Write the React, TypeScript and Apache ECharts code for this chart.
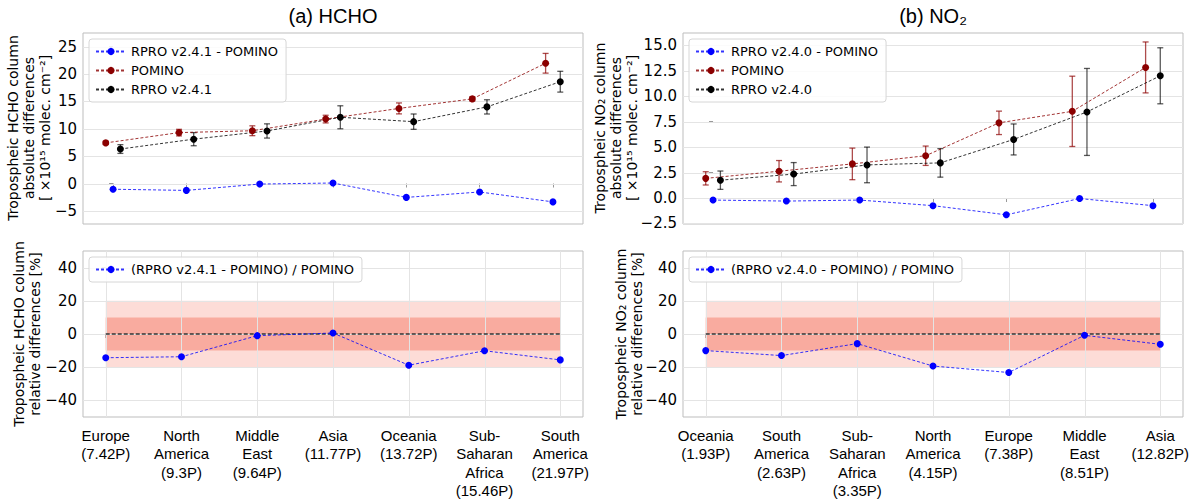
import React, { useEffect, useRef } from 'react';
import * as echarts from 'echarts';

// ---------------- data ----------------
const hchoCategories = [
  'Europe\n(7.42P)',
  'North\nAmerica\n(9.3P)',
  'Middle\nEast\n(9.64P)',
  'Asia\n(11.77P)',
  'Oceania\n(13.72P)',
  'Sub-\nSaharan\nAfrica\n(15.46P)',
  'South\nAmerica\n(21.97P)',
];
const hchoPomino = [7.42, 9.3, 9.64, 11.77, 13.72, 15.46, 21.97];
const hchoPominoErr = [0.3, 0.6, 0.9, 0.7, 1.0, 0.4, 1.8];
const hchoRpro = [6.3, 8.1, 9.6, 12.1, 11.3, 14.0, 18.6];
const hchoRproErr = [0.8, 1.2, 1.3, 2.1, 1.4, 1.3, 1.9];
const hchoAbsDiff = [-1.05, -1.26, -0.1, 0.09, -2.54, -1.55, -3.36];
const hchoRelDiff = [-14.3, -13.7, -1.0, 0.6, -18.8, -10.1, -15.6];

const no2Categories = [
  'Oceania\n(1.93P)',
  'South\nAmerica\n(2.63P)',
  'Sub-\nSaharan\nAfrica\n(3.35P)',
  'North\nAmerica\n(4.15P)',
  'Europe\n(7.38P)',
  'Middle\nEast\n(8.51P)',
  'Asia\n(12.82P)',
];
const no2Pomino = [1.93, 2.63, 3.35, 4.15, 7.38, 8.51, 12.82];
const no2PominoErr = [0.65, 1.05, 1.55, 0.95, 1.15, 3.45, 2.5];
const no2Rpro = [1.75, 2.35, 3.25, 3.45, 5.75, 8.45, 12.0];
const no2RproErr = [0.9, 1.13, 1.75, 1.4, 1.52, 4.27, 2.75];
const no2AbsDiff = [-0.2, -0.3, -0.2, -0.75, -1.65, -0.05, -0.75];
const no2RelDiff = [-10.0, -13.0, -5.8, -19.3, -23.2, -0.8, -6.2];

const hchoAbsTicks = [-5, 0, 5, 10, 15, 20, 25];
const no2AbsTicks = [-2.5, 0, 2.5, 5, 7.5, 10, 12.5, 15];
const relTicks = [-40, -20, 0, 20, 40];
const bandLimits = [20, 10];

// ---------------- helpers ----------------
const FONT = 'DejaVu Sans';
const SANS = 'Liberation Sans';
const GRID_COLOR = '#e4e4e4';
const BAND_COLORS = ['#fddcd7', '#f9ab9f'];
const OFFSET = 0.1;

const minus = (s: string) => s.replace('-', '\u2212');

function hGridSeries(ticks: number[], axisIdx: number) {
  return {
    type: 'custom',
    xAxisIndex: axisIdx,
    yAxisIndex: axisIdx,
    z: 2,
    silent: true,
    data: ticks.map((v) => [0, v]),
    renderItem: (params: any, api: any) => {
      const cs = params.coordSys;
      const y = Math.round(api.coord([0, api.value(1)])[1]) + 0.5;
      return {
        type: 'line',
        shape: { x1: cs.x, y1: y, x2: cs.x + cs.width, y2: y },
        style: { stroke: GRID_COLOR, lineWidth: 1 },
      };
    },
  };
}

function vGridSeries(count: number, axisIdx: number) {
  return {
    type: 'custom',
    xAxisIndex: axisIdx,
    yAxisIndex: axisIdx,
    z: 2,
    silent: true,
    data: Array.from({ length: count }, (_, i) => [i, 0]),
    renderItem: (params: any, api: any) => {
      const cs = params.coordSys;
      const x = Math.round(api.coord([api.value(0), 0])[0]) + 0.5;
      return {
        type: 'line',
        shape: { x1: x, y1: cs.y, x2: x, y2: cs.y + cs.height },
        style: { stroke: GRID_COLOR, lineWidth: 1 },
      };
    },
  };
}

function bandSeries(count: number, axisIdx: number) {
  return {
    type: 'custom',
    xAxisIndex: axisIdx,
    yAxisIndex: axisIdx,
    z: 1,
    silent: true,
    data: bandLimits.map((b) => [0, -b, count - 1, b]),
    renderItem: (params: any, api: any) => {
      const p1 = api.coord([api.value(0), api.value(3)]);
      const p2 = api.coord([api.value(2), api.value(1)]);
      return {
        type: 'rect',
        shape: { x: p1[0], y: p1[1], width: p2[0] - p1[0], height: p2[1] - p1[1] },
        style: { fill: BAND_COLORS[params.dataIndex] },
      };
    },
  };
}

function zeroLineSeries(count: number, axisIdx: number) {
  return {
    type: 'custom',
    xAxisIndex: axisIdx,
    yAxisIndex: axisIdx,
    z: 3,
    silent: true,
    data: [[0, 0, count - 1]],
    renderItem: (params: any, api: any) => {
      const p1 = api.coord([api.value(0), api.value(1)]);
      const p2 = api.coord([api.value(2), api.value(1)]);
      return {
        type: 'line',
        shape: { x1: p1[0], y1: p1[1], x2: p2[0], y2: p2[1] },
        style: { stroke: '#333', lineWidth: 1.3, lineDash: [4, 2] },
      };
    },
  };
}

function errSeries(name: string, vals: number[], errs: number[], off: number, color: string, axisIdx: number) {
  return {
    type: 'custom',
    name,
    xAxisIndex: axisIdx,
    yAxisIndex: axisIdx,
    z: 4,
    silent: true,
    encode: { x: 0, y: [1, 2] },
    data: vals.map((v, i) => [i + off, v - errs[i], v + errs[i]]),
    renderItem: (params: any, api: any) => {
      const x = api.value(0);
      const a = api.coord([x, api.value(1)]);
      const b = api.coord([x, api.value(2)]);
      const cap = 3;
      const st = { stroke: color, lineWidth: 1.3 };
      return {
        type: 'group',
        children: [
          { type: 'line', shape: { x1: a[0], y1: a[1], x2: b[0], y2: b[1] }, style: st },
          { type: 'line', shape: { x1: a[0] - cap, y1: a[1], x2: a[0] + cap, y2: a[1] }, style: st },
          { type: 'line', shape: { x1: b[0] - cap, y1: b[1], x2: b[0] + cap, y2: b[1] }, style: st },
        ],
      };
    },
  };
}

function lineSeries(name: string, vals: number[], off: number, color: string, axisIdx: number) {
  return {
    type: 'line',
    name,
    xAxisIndex: axisIdx,
    yAxisIndex: axisIdx,
    z: 5,
    data: vals.map((v, i) => [i + off, v]),
    symbol: 'circle',
    symbolSize: 7,
    showSymbol: true,
    itemStyle: { color },
    lineStyle: { color, width: 1, type: [3, 2], opacity: 0.8 },
    silent: true,
  };
}

function xAxisCfg(gridIndex: number, min: number, max: number, count: number, labels: string[] | null) {
  const idx = Array.from({ length: count }, (_, i) => i);
  return {
    type: 'value',
    gridIndex,
    min,
    max,
    axisLine: { show: false },
    splitLine: { show: false },
    axisTick: { show: true, customValues: idx, length: 4, lineStyle: { color: '#999' } },
    axisLabel: labels
      ? {
          show: true,
          customValues: idx,
          formatter: (v: number) => labels[Math.round(v)] ?? '',
          fontSize: 15,
          fontFamily: SANS,
          color: '#000',
          lineHeight: 18.5,
          margin: 9,
          align: 'center',
        }
      : { show: false },
  };
}

function yAxisCfg(gridIndex: number, min: number, max: number, ticks: number[], dec: number) {
  return {
    type: 'value',
    gridIndex,
    min,
    max,
    axisLine: { show: false },
    splitLine: { show: false },
    axisTick: { show: true, customValues: ticks, length: 4, lineStyle: { color: '#999' } },
    axisLabel: {
      customValues: ticks,
      formatter: (v: number) => minus(v.toFixed(dec)),
      fontSize: 15,
      fontFamily: FONT,
      color: '#000',
      margin: 6,
    },
  };
}

function legendCfg(names: string[], left: number, top: number) {
  return {
    data: names,
    orient: 'vertical',
    left,
    top,
    itemWidth: 30,
    itemHeight: 9,
    itemGap: 6,
    padding: [6, 8, 6, 6],
    borderColor: '#d6d6d6',
    borderWidth: 1,
    borderRadius: 3,
    backgroundColor: 'rgba(255,255,255,0.85)',
    selectedMode: false,
    textStyle: { fontSize: 13, fontFamily: FONT, color: '#000' },
  };
}

function yLabel(lines: string[], x0: number, yc: number, step: number) {
  return lines.map((t, i) => ({
    type: 'text',
    x: x0 + i * step,
    y: yc,
    rotation: Math.PI / 2,
    silent: true,
    style: {
      text: t,
      fill: '#000',
      fontSize: 14,
      fontFamily: FONT,
      align: 'center',
      verticalAlign: 'middle',
      textAlign: 'center',
      textVerticalAlign: 'middle',
    },
  }));
}

export default function App() {
  const ref = useRef<HTMLDivElement>(null);
  useEffect(() => {
    if (!ref.current) return;
    const chart = echarts.init(ref.current, undefined, { renderer: 'svg' });
    const n = hchoCategories.length;
    const blue = '#0000ff';
    const red = '#8b0000';
    const black = '#000000';
    const gridBase = { show: true, borderColor: '#bdbdbd', borderWidth: 1, backgroundColor: 'transparent' };

    chart.setOption({
      animation: false,
      backgroundColor: '#ffffff',
      title: [
        { text: '(a) HCHO', left: 333, top: 6, textAlign: 'center', padding: 0, textStyle: { fontSize: 20, fontWeight: 'normal', fontFamily: SANS, color: '#000' } },
        { text: '(b) NO\u2082', left: 933, top: 6, textAlign: 'center', padding: 0, textStyle: { fontSize: 20, fontWeight: 'normal', fontFamily: SANS, color: '#000' } },
      ],
      grid: [
        { ...gridBase, left: 83, top: 33, width: 500, height: 191 },
        { ...gridBase, left: 83, top: 251, width: 500, height: 166 },
        { ...gridBase, left: 683, top: 33, width: 500, height: 191 },
        { ...gridBase, left: 683, top: 251, width: 500, height: 166 },
      ],
      xAxis: [
        xAxisCfg(0, -0.41, 6.41, n, null),
        xAxisCfg(1, -0.3, 6.3, n, hchoCategories),
        xAxisCfg(2, -0.41, 6.41, n, null),
        xAxisCfg(3, -0.3, 6.3, n, no2Categories),
      ],
      yAxis: [
        yAxisCfg(0, -7.4, 27.5, hchoAbsTicks, 0),
        yAxisCfg(1, -50, 50, relTicks, 0),
        yAxisCfg(2, -2.55, 16.2, no2AbsTicks, 1),
        yAxisCfg(3, -50, 50, relTicks, 0),
      ],
      legend: [
        legendCfg(['RPRO v2.4.1 - POMINO', 'POMINO', 'RPRO v2.4.1'], 89, 39),
        legendCfg(['(RPRO v2.4.1 - POMINO) / POMINO'], 89, 257),
        legendCfg(['RPRO v2.4.0 - POMINO', 'POMINO', 'RPRO v2.4.0'], 689, 39),
        legendCfg(['(RPRO v2.4.0 - POMINO) / POMINO'], 689, 257),
      ],
      graphic: [
        ...yLabel(['Tropospheic HCHO column', 'absolute differences', '[ \u00d710\u00b9\u2075 molec. cm\u207b\u00b2]'], 13, 128, 16),
        ...yLabel(['Tropospheic HCHO column', 'relative differences [%]'], 19, 334, 16),
        ...yLabel(['Tropospheic NO\u2082 column', 'absolute differences', '[ \u00d710\u00b9\u2075 molec. cm\u207b\u00b2]'], 600, 128, 16),
        ...yLabel(['Tropospheic NO\u2082 column', 'relative differences [%]'], 621, 334, 16),
      ],
      series: [
        // HCHO absolute
        hGridSeries(hchoAbsTicks, 0),
        errSeries('POMINO err a', hchoPomino, hchoPominoErr, -OFFSET, 'rgba(139,0,0,0.7)', 0),
        errSeries('RPRO err a', hchoRpro, hchoRproErr, OFFSET, 'rgba(0,0,0,0.65)', 0),
        lineSeries('RPRO v2.4.1 - POMINO', hchoAbsDiff, 0, blue, 0),
        lineSeries('POMINO', hchoPomino, -OFFSET, red, 0),
        lineSeries('RPRO v2.4.1', hchoRpro, OFFSET, black, 0),
        // HCHO relative
        bandSeries(n, 1),
        hGridSeries(relTicks, 1),
        vGridSeries(n, 1),
        zeroLineSeries(n, 1),
        lineSeries('(RPRO v2.4.1 - POMINO) / POMINO', hchoRelDiff, 0, blue, 1),
        // NO2 absolute
        hGridSeries(no2AbsTicks, 2),
        errSeries('POMINO err b', no2Pomino, no2PominoErr, -OFFSET, 'rgba(139,0,0,0.7)', 2),
        errSeries('RPRO err b', no2Rpro, no2RproErr, OFFSET, 'rgba(0,0,0,0.65)', 2),
        lineSeries('RPRO v2.4.0 - POMINO', no2AbsDiff, 0, blue, 2),
        lineSeries('POMINO', no2Pomino, -OFFSET, red, 2),
        lineSeries('RPRO v2.4.0', no2Rpro, OFFSET, black, 2),
        // NO2 relative
        bandSeries(n, 3),
        hGridSeries(relTicks, 3),
        vGridSeries(n, 3),
        zeroLineSeries(n, 3),
        lineSeries('(RPRO v2.4.0 - POMINO) / POMINO', no2RelDiff, 0, blue, 3),
      ],
    });
    return () => chart.dispose();
  }, []);
  return <div ref={ref} style={{ position: 'absolute', left: 0, top: 0, width: 1195, height: 501 }} />;
}
